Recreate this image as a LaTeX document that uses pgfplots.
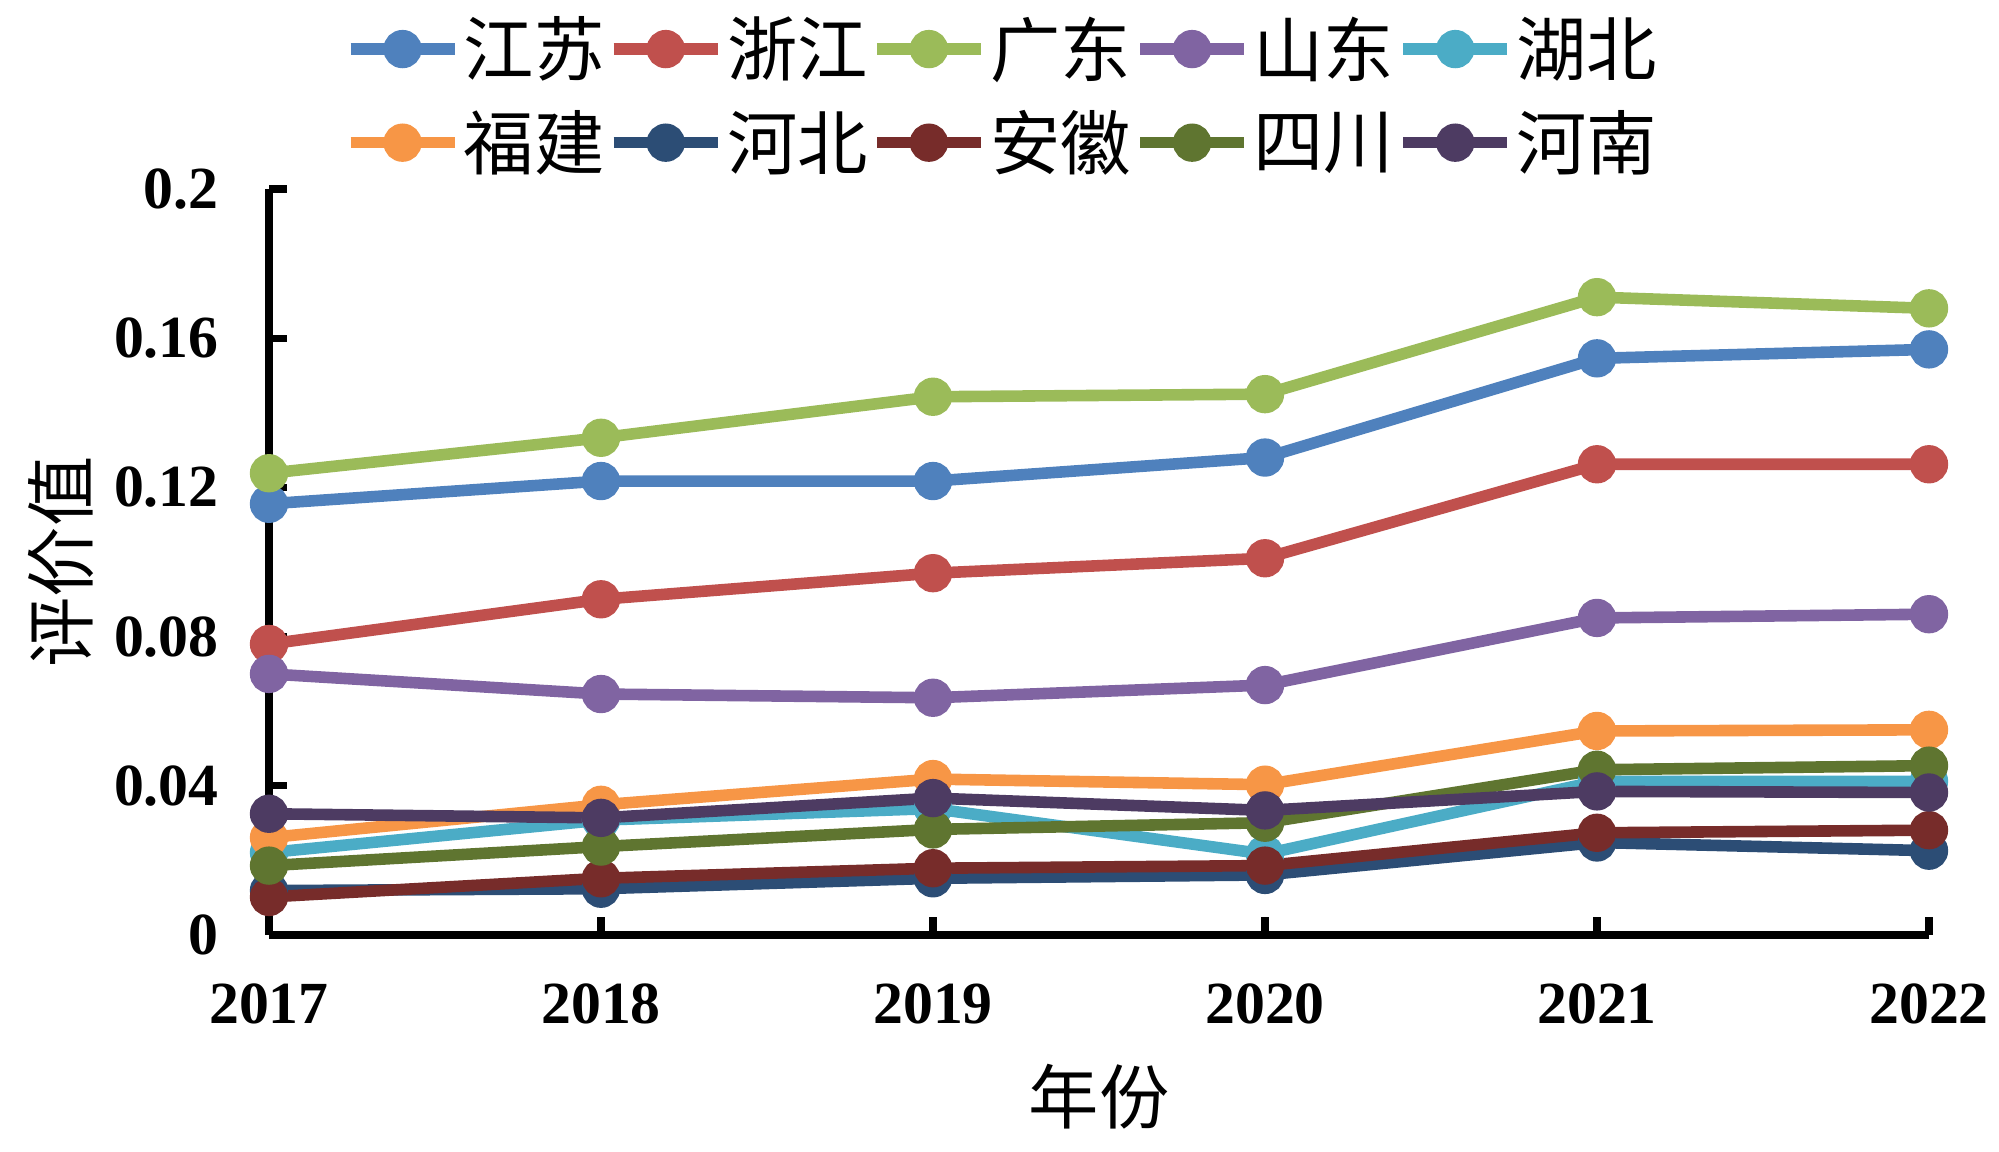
\documentclass[border=0pt]{standalone}
\usepackage{fontspec}
\setmainfont{Liberation Serif}
\newfontfamily\cjk{Noto Sans CJK SC}
\usepackage{pgfplots}
\usepackage{pgfplotstable}
\pgfplotsset{compat=1.18}
\definecolor{cJS}{HTML}{4F81BD}
\definecolor{cZJ}{HTML}{C0504D}
\definecolor{cGD}{HTML}{9BBB59}
\definecolor{cSD}{HTML}{8064A2}
\definecolor{cHB}{HTML}{4BACC6}
\definecolor{cFJ}{HTML}{F79646}
\definecolor{cHeB}{HTML}{2C4D75}
\definecolor{cAH}{HTML}{772C2A}
\definecolor{cSC}{HTML}{5F7530}
\definecolor{cHN}{HTML}{4D3B62}
\pgfplotstableread{
year js zj gd sd hb fj heb ah sc hn
2017 0.1156 0.0780 0.1238 0.0700 0.0221 0.0261 0.0119 0.0102 0.0186 0.0325
2018 0.1217 0.0900 0.1333 0.0646 0.0308 0.0349 0.0124 0.0152 0.0237 0.0314
2019 0.1217 0.0970 0.1443 0.0636 0.0339 0.0418 0.0152 0.0179 0.0283 0.0367
2020 0.1280 0.1010 0.1450 0.0670 0.0217 0.0403 0.0161 0.0186 0.0301 0.0334
2021 0.1546 0.1262 0.1710 0.0850 0.0412 0.0547 0.0248 0.0274 0.0443 0.0385
2022 0.1570 0.1262 0.1680 0.0860 0.0412 0.0550 0.0226 0.0281 0.0454 0.0382
}\datatable
\begin{document}
\begin{tikzpicture}
\useasboundingbox (0,0) rectangle (19.99cm,11.52cm);
\begin{axis}[
  scale only axis, width=16.6cm, height=7.46cm,
  at={(2.69cm,2.17cm)}, anchor=south west,
  xmin=2017, xmax=2022, ymin=0, ymax=0.2,
  axis lines*=left,
  axis line style={line width=2.3pt, black},
  tick style={line width=2pt, black},
  major tick length=0.18cm, tick align=inside,
  xtick={2017,2018,2019,2020,2021,2022},
  xticklabels={2017,2018,2019,2020,2021,2022},
  ytick={0,0.04,0.08,0.12,0.16,0.2},
  yticklabels={0,0.04,0.08,0.12,0.16,0.2},
  ticklabel style={font=\fontsize{17}{19}\selectfont\bfseries},
  xticklabel style={yshift=-0.36cm},
  yticklabel style={xshift=-0.38cm},
  xlabel={\cjk 年份}, ylabel={\cjk 评价值},
  label style={font=\fontsize{20}{24}\selectfont},
  xlabel style={at={(axis description cs:0.5,-0.217)}, anchor=center},
  ylabel style={at={(axis description cs:-0.125,0.5)}, anchor=center},
  every axis plot/.append style={line width=3.3pt, mark=*, mark size=3.8pt},
  legend columns=5,
  legend style={draw=none, fill=none, at={(axis description cs:0.442,1.246)}, anchor=north,
    font=\cjk\fontsize{20}{23}\selectfont,
    row sep=0.22cm,
    nodes={inner sep=0.035cm}},
  legend image code/.code={\draw[mark repeat=2,mark phase=2] plot coordinates {(0cm,0cm) (0.52cm,0cm) (1.04cm,0cm)};},
]
\addplot[color=cJS] table[x=year,y=js]{\datatable};
\addplot[color=cZJ] table[x=year,y=zj]{\datatable};
\addplot[color=cGD] table[x=year,y=gd]{\datatable};
\addplot[color=cSD] table[x=year,y=sd]{\datatable};
\addplot[color=cHB] table[x=year,y=hb]{\datatable};
\addplot[color=cFJ] table[x=year,y=fj]{\datatable};
\addplot[color=cHeB] table[x=year,y=heb]{\datatable};
\addplot[color=cAH] table[x=year,y=ah]{\datatable};
\addplot[color=cSC] table[x=year,y=sc]{\datatable};
\addplot[color=cHN] table[x=year,y=hn]{\datatable};
\legend{江苏,浙江,广东,山东,湖北,福建,河北,安徽,四川,河南}
\end{axis}
\end{tikzpicture}
\end{document}
